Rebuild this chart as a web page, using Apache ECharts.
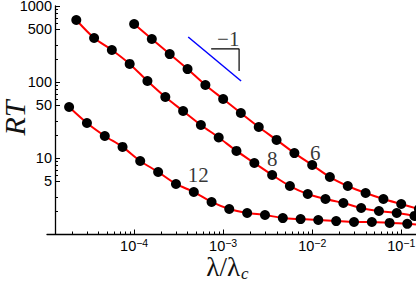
<!DOCTYPE html>
<html><head><meta charset="utf-8">
<script src="https://cdn.jsdelivr.net/npm/echarts@6/dist/echarts.min.js"></script>
<style>html,body{margin:0;padding:0;background:#fff}#c{width:416px;height:284px}</style>
</head><body><div id="c"></div>
<script>
// curve "6"
const x6 = [1.0e-4, 1.58e-4, 2.51e-4, 3.98e-4, 6.31e-4, 1.0e-3, 1.58e-3, 2.51e-3, 3.98e-3, 6.31e-3, 1.0e-2, 1.58e-2, 2.51e-2, 3.98e-2, 6.31e-2, 0.1, 0.158];
const y6 = [580, 368, 233, 148, 91.4, 59.7, 39.1, 25.6, 17.3, 11.6, 8.09, 5.62, 4.28, 3.46, 2.89, 2.48, 2.13];
// curve "8"
const x8 = [2.24e-5, 3.55e-5, 5.62e-5, 8.91e-5, 1.41e-4, 2.24e-4, 3.55e-4, 5.62e-4, 8.91e-4, 1.41e-3, 2.24e-3, 3.55e-3, 5.62e-3, 8.91e-3, 1.41e-2, 2.24e-2, 3.55e-2, 5.62e-2, 8.91e-2, 0.141];
const y8 = [654, 379, 264, 173, 103, 63.5, 41.5, 27.2, 18.6, 12.4, 8.6, 5.98, 4.28, 3.36, 2.89, 2.56, 2.20, 2.01, 1.89, 1.73];
const tail8 = [0.1466, 1.67];
// curve "12"
const x12 = [1.86e-5, 2.95e-5, 4.68e-5, 7.41e-5, 1.17e-4, 1.86e-4, 2.95e-4, 4.68e-4, 7.41e-4, 1.17e-3, 1.86e-3, 2.95e-3, 4.68e-3, 7.41e-3, 1.17e-2, 1.86e-2, 2.95e-2, 4.68e-2, 7.41e-2, 0.117];
const y12 = [46.9, 28.9, 19.5, 14.0, 9.14, 6.55, 4.55, 3.57, 2.64, 2.13, 1.89, 1.78, 1.62, 1.57, 1.53, 1.48, 1.44, 1.44, 1.40, 1.36];
const tail12 = [0.1466, 1.33];
// slope guide
const slopeLine = [[4.05e-4, 391], [1.59e-3, 103]];
const slopeTri = [[7.33e-4, 272], [1.51e-3, 272], [1.51e-3, 140]];
const slopeText = {name: '\u22121', value: [1.14e-3, 368]};
// curve labels
const curveLabels = [
  {name: '6', value: [0.0108, 11.6]},
  {name: '8', value: [3.56e-3, 9.7]},
  {name: '12', value: [5.24e-4, 5.97]}
];
// ticks
const xMajor = [1e-4, 1e-3, 1e-2, 1e-1];
const xMinor = [2e-5,3e-5,4e-5,5e-5,6e-5,7e-5,8e-5,9e-5, 2e-4,3e-4,4e-4,5e-4,6e-4,7e-4,8e-4,9e-4, 2e-3,3e-3,4e-3,5e-3,6e-3,7e-3,8e-3,9e-3, 2e-2,3e-2,4e-2,5e-2,6e-2,7e-2,8e-2,9e-2];
const yMajor = [5, 10, 50, 100, 500, 1000];
const yMinor = [2,3,6,7,8,9, 20,30,60,70,80,90, 200,300,600,700,800,900];

const xMin = 1.05e-5, xMax = 0.1466, yMin = 1, yMax = 1000;

function pairs(xs, ys) { return xs.map((x, i) => [x, ys[i]]); }
function withTail(xs, ys, tail) {
  const d = pairs(xs, ys);
  if (tail) d.push({value: tail, symbol: 'none'});
  return d;
}

const chart = echarts.init(document.getElementById('c'), null, {renderer: 'svg'});
const sans = 'Liberation Sans';
const serif = 'Liberation Serif';
const curveSeries = (data) => ({
  type: 'line', data, smooth: 0.3, symbol: 'circle', symbolSize: 10, clip: false,
  itemStyle: {color: '#000'}, lineStyle: {color: '#ff0000', width: 2}, z: 3
});

chart.setOption({
  animation: false,
  grid: {left: 47, right: 0, top: 6, bottom: 50, outerBoundsMode: 'none'},
  xAxis: [{
    type: 'log', logBase: 10, min: xMin, max: xMax, position: 'bottom',
    axisLine: {show: true, lineStyle: {color: '#000', width: 1.3}},
    axisTick: {show: true, inside: true, length: 4.5, customValues: xMajor, lineStyle: {color: '#000', width: 1}},
    splitLine: {show: false},
    axisLabel: {
      show: true, margin: 3, customValues: xMajor,
      formatter: v => '{b|10}{s|\u2212' + Math.abs(Math.round(Math.log10(v))) + '}',
      rich: {
        b: {fontFamily: sans, fontSize: 14.5, color: '#000', lineHeight: 16, verticalAlign: 'bottom'},
        s: {fontFamily: sans, fontSize: 10.5, color: '#000', lineHeight: 10, verticalAlign: 'top'}
      }
    }
  }, {
    type: 'log', logBase: 10, min: xMin, max: xMax, gridIndex: 0, position: 'bottom',
    axisLine: {show: false}, splitLine: {show: false}, axisLabel: {show: false},
    axisTick: {show: true, inside: true, length: 2.5, customValues: xMinor, lineStyle: {color: '#000', width: 1}}
  }],
  yAxis: [{
    type: 'log', logBase: 10, min: yMin, max: yMax, offset: -8, position: 'left',
    axisLine: {show: true, lineStyle: {color: '#000', width: 1.3}},
    axisTick: {show: true, inside: true, length: 5, customValues: yMajor, lineStyle: {color: '#000', width: 1}},
    splitLine: {show: false},
    axisLabel: {show: true, margin: 3, customValues: yMajor, fontFamily: sans, fontSize: 14.5, lineHeight: 12, color: '#000', formatter: v => String(v)}
  }, {
    type: 'log', logBase: 10, min: yMin, max: yMax, offset: -8, position: 'left',
    axisLine: {show: false}, splitLine: {show: false}, axisLabel: {show: false},
    axisTick: {show: true, inside: true, length: 3, customValues: yMinor, lineStyle: {color: '#000', width: 1}}
  }],
  series: [
    curveSeries(pairs(x6, y6)),
    curveSeries(withTail(x8, y8, tail8)),
    curveSeries(withTail(x12, y12, tail12)),
    {type: 'line', data: slopeLine, symbol: 'none', lineStyle: {color: '#0000ff', width: 1.5}, z: 2},
    {type: 'line', data: slopeTri, symbol: 'none', lineStyle: {color: '#000', width: 1.2}, z: 2},
    {type: 'scatter', data: [slopeText], symbolSize: 0, z: 4,
     label: {show: true, position: 'inside', formatter: p => p.name, fontFamily: serif, fontSize: 21, color: '#000'}},
    {type: 'scatter', data: curveLabels, symbolSize: 0, z: 4,
     label: {show: true, position: 'inside', formatter: p => p.name, fontFamily: serif, fontSize: 21, color: '#000'}}
  ],
  graphic: [
    {type: 'text', x: 14, y: 118, rotation: Math.PI / 2,
     style: {text: 'RT', fontFamily: serif, fontStyle: 'italic', fontSize: 30, lineHeight: 22, fill: '#111', align: 'center', verticalAlign: 'middle'}},
    {type: 'text', x: 240, y: 267,
     style: {text: '\u03bb/\u03bb', fontFamily: serif, fontSize: 27, lineHeight: 24, fill: '#111', align: 'right', verticalAlign: 'middle'}},
    {type: 'text', x: 241, y: 273.5,
     style: {text: 'c', fontFamily: serif, fontStyle: 'italic', fontSize: 17, lineHeight: 14, fill: '#111', align: 'left', verticalAlign: 'middle'}}
  ]
});
</script></body></html>
